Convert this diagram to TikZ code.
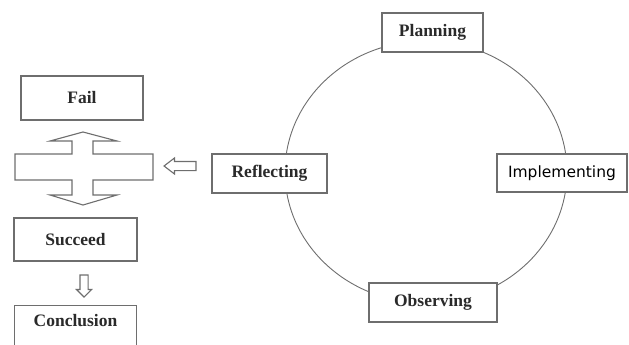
\documentclass[tikz,border=0pt]{standalone}
\usepackage{fontspec}
\setmainfont{Liberation Serif}
\newfontfamily\implfont{DejaVu Sans}
\usetikzlibrary{positioning,
                shapes.arrows}
\definecolor{boxgray}{HTML}{6E6E6E}
\definecolor{txtgray}{HTML}{2A2A2A}
\tikzset{
        base/.style={draw=boxgray, line width=1.1pt, fill=white, text=txtgray,
                     align=center, inner sep=0pt,
                     font=\fontsize{17.5}{20}\selectfont\bfseries},
        stage/.style={base, rectangle},
        hollow/.style={draw=boxgray, line width=1.1pt, fill=white},
        hollowarrow/.style={hollow, single arrow, single arrow head indent=0pt},
        ring/.style={draw=boxgray, line width=0.9pt},
 }

\begin{document}
\begin{tikzpicture}[x=1pt, y=-1pt]
        \useasboundingbox (0,0) rectangle (629,345);
        \clip (0,0) rectangle (629,345);

        % the cycle
        \coordinate (hub) at (426,172);
        \draw[ring] (hub) ellipse [x radius=141pt, y radius=131pt];

        \node[stage, minimum width=101pt, minimum height=39pt] (planning)
              at (432.5,32.5) {Planning};
        \node[stage, minimum width=130pt, minimum height=38pt,
              text=black, font=\fontsize{15.5}{18}\implfont] (implementing)
              at (562,173) {Implementing};
        \node[stage, minimum width=128pt, minimum height=39pt] (observing)
              at (433,302.5) {Observing};
        \node[stage, minimum width=115pt, minimum height=39pt] (reflecting)
              at (269.5,173.5) {Reflecting};

        % decision on the left
        \node[hollowarrow, shape border rotate=180, inner sep=4pt,
              single arrow head extend=3.5pt, single arrow tip angle=75,
              minimum height=32pt] (toward) at (183,166) {};

        \coordinate (junction) at (83,167);
        \draw[hollow] (83,132) -- (117,141) -- (93,141) -- (93,154)
              -- (153,154) -- (153,180) -- (93,180) -- (93,195)
              -- (117,195) -- (83,205) -- (50,195) -- (72,195)
              -- (72,180) -- (15,180) -- (15,154) -- (72,154)
              -- (72,141) -- (50,141) -- cycle;

        \node[stage, minimum width=122pt, minimum height=44pt] (fail)
              at (82,98) {Fail};
        \node[stage, minimum width=123pt, minimum height=43pt] (succeed)
              at (75.5,239.5) {Succeed};

        \node[hollowarrow, shape border rotate=270, inner sep=3.5pt,
              single arrow head extend=3.5pt, minimum height=22pt]
              (onward) at (84,284) {};

        \node[stage, minimum width=122pt, inner ysep=5pt, text height=16pt,
              text depth=30pt, below=43pt of succeed] (conclusion)
              {Conclusion};

\end{tikzpicture}
\end{document}
